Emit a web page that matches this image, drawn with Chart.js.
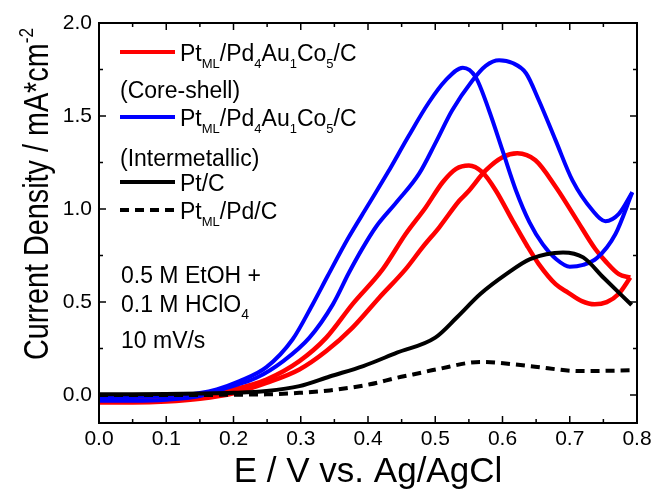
<!DOCTYPE html>
<html>
<head>
<meta charset="utf-8">
<script src="https://cdn.jsdelivr.net/npm/chart.js@4.4.1/dist/chart.umd.min.js"></script>
<style>
  html, body { margin: 0; padding: 0; background: #fff; }
</style>
</head>
<body>
<canvas id="cv" width="656" height="491"></canvas>
<script>
// CV data: potential E (V vs. Ag/AgCl), current density I (mA/cm2)

// PtML/Pd4Au1Co5/C core-shell, forward + reverse sweep
const csFwdE = [0, 0.05, 0.10, 0.15, 0.20, 0.249, 0.298, 0.338, 0.377, 0.417, 0.456, 0.481, 0.506, 0.536, 0.548, 0.575, 0.60, 0.622, 0.649, 0.679, 0.709, 0.738, 0.753, 0.773, 0.790];
const csFwdI = [-0.04, -0.04, -0.035, -0.02, 0.01, 0.066, 0.138, 0.237, 0.363, 0.525, 0.677, 0.794, 0.902, 1.046, 1.09, 1.208, 1.279, 1.30, 1.262, 1.12, 0.95, 0.785, 0.72, 0.65, 0.632];
const csRevE = [0.790, 0.773, 0.755, 0.737, 0.718, 0.698, 0.679, 0.654, 0.637, 0.615, 0.59, 0.57, 0.55, 0.531, 0.511, 0.486, 0.456, 0.422, 0.377, 0.338, 0.298, 0.249, 0.20, 0.15, 0.10, 0.05, 0];
const csRevI = [0.632, 0.545, 0.50, 0.488, 0.505, 0.55, 0.596, 0.704, 0.80, 0.938, 1.10, 1.198, 1.234, 1.216, 1.144, 1.01, 0.866, 0.677, 0.489, 0.309, 0.183, 0.084, 0.031, 0.0, -0.015, -0.025, -0.03];

// PtML/Pd4Au1Co5/C intermetallic
const imFwdE = [0, 0.05, 0.10, 0.15, 0.19, 0.234, 0.274, 0.313, 0.348, 0.372, 0.392, 0.412, 0.442, 0.476, 0.501, 0.525, 0.555, 0.575, 0.595, 0.615, 0.635, 0.654, 0.679, 0.704, 0.734, 0.753, 0.773, 0.793];
const imFwdI = [-0.03, -0.03, -0.025, -0.005, 0.039, 0.093, 0.183, 0.309, 0.489, 0.66, 0.79, 0.905, 1.035, 1.19, 1.36, 1.53, 1.69, 1.77, 1.80, 1.785, 1.73, 1.585, 1.369, 1.154, 0.992, 0.935, 0.974, 1.09];
const imRevE = [0.793, 0.768, 0.74, 0.72, 0.70, 0.68, 0.66, 0.64, 0.62, 0.60, 0.58, 0.56, 0.541, 0.515, 0.49, 0.46, 0.43, 0.40, 0.37, 0.34, 0.318, 0.288, 0.249, 0.209, 0.175, 0.15, 0.10, 0.05, 0];
const imRevI = [1.09, 0.866, 0.735, 0.70, 0.69, 0.73, 0.81, 0.93, 1.10, 1.315, 1.53, 1.71, 1.76, 1.69, 1.57, 1.39, 1.20, 1.02, 0.84, 0.64, 0.49, 0.30, 0.15, 0.075, 0.031, 0.012, -0.005, -0.01, -0.012];

// Pt/C
const ptcE = [0, 0.05, 0.10, 0.15, 0.20, 0.249, 0.298, 0.343, 0.393, 0.443, 0.50, 0.532, 0.567, 0.606, 0.641, 0.69, 0.72, 0.75, 0.792];
const ptcI = [0.005, 0.005, 0.006, 0.008, 0.012, 0.022, 0.048, 0.10, 0.156, 0.228, 0.309, 0.417, 0.543, 0.651, 0.731, 0.767, 0.74, 0.632, 0.484];

// PtML/Pd/C
const ptPdE = [0, 0.10, 0.20, 0.249, 0.298, 0.343, 0.403, 0.443, 0.467, 0.502, 0.567, 0.641, 0.715, 0.79];
const ptPdI = [0.0, 0.0, 0.002, 0.004, 0.012, 0.025, 0.058, 0.093, 0.111, 0.138, 0.178, 0.156, 0.129, 0.133];

const xTicks = [0, 0.1, 0.2, 0.3, 0.4, 0.5, 0.6, 0.7, 0.8];
const yTicks = [0, 0.5, 1.0, 1.5, 2.0];

// legend text, "_{..}" = subscript
const seriesNames = ['Pt_{ML}/Pd_{4}Au_{1}Co_{5}/C', 'Pt_{ML}/Pd_{4}Au_{1}Co_{5}/C', 'Pt/C', 'Pt_{ML}/Pd/C'];
const seriesNotes = ['(Core-shell)', '(Intermetallic)', '', ''];
const conditions = ['0.5 M EtOH +', '0.1 M HClO_{4}', '10 mV/s'];

const FONT = '"Liberation Sans", Arial, sans-serif';
const RED = 'rgb(255,0,0)', BLUE = 'rgb(0,0,255)', BLACK = '#000';

const pts = (E, I) => E.map((e, i) => ({ x: e, y: I[i] }));

function drawRich(ctx, str, x, y, size, subSize, drop) {
  const parts = str.split(/(_\{[^}]*\})/).filter(Boolean);
  for (const p of parts) {
    const sub = p.startsWith('_{');
    const t = sub ? p.slice(2, -1) : p;
    ctx.font = (sub ? subSize : size) + 'px ' + FONT;
    ctx.fillText(t, x, sub ? y + drop : y);
    x += ctx.measureText(t).width;
  }
  return x;
}

const decor = {
  id: 'decor',
  afterDraw(chart) {
    const ctx = chart.ctx;
    const a = chart.chartArea;
    const xs = chart.scales.x, ys = chart.scales.y;
    ctx.save();
    ctx.fillStyle = '#000';
    ctx.strokeStyle = '#000';

    // frame
    ctx.lineWidth = 2;
    ctx.strokeRect(a.left, a.top, a.right - a.left, a.bottom - a.top);

    // inward ticks on all four sides, minor ones half way
    ctx.lineWidth = 1.5;
    ctx.beginPath();
    xTicks.forEach((v, i) => {
      const marks = [[v, 7]];
      if (i < xTicks.length - 1) marks.push([(v + xTicks[i + 1]) / 2, 4]);
      marks.forEach(([m, len]) => {
        const px = xs.getPixelForValue(m);
        ctx.moveTo(px, a.bottom); ctx.lineTo(px, a.bottom - len);
        ctx.moveTo(px, a.top); ctx.lineTo(px, a.top + len);
      });
    });
    yTicks.forEach((v, i) => {
      const marks = [[v, 7]];
      if (i < yTicks.length - 1) marks.push([(v + yTicks[i + 1]) / 2, 4]);
      marks.forEach(([m, len]) => {
        const py = ys.getPixelForValue(m);
        ctx.moveTo(a.left, py); ctx.lineTo(a.left + len, py);
        ctx.moveTo(a.right, py); ctx.lineTo(a.right - len, py);
      });
    });
    ctx.stroke();

    // axis titles
    ctx.textBaseline = 'alphabetic';
    ctx.textAlign = 'center';
    ctx.font = '35px ' + FONT;
    ctx.fillText('E / V vs. Ag/AgCl', (a.left + a.right) / 2, 482);

    ctx.save();
    ctx.translate(48, 360);
    ctx.rotate(-Math.PI / 2);
    ctx.textAlign = 'left';
    ctx.font = '35px ' + FONT;
    const main = 'Current Density / mA*cm';
    const mw = ctx.measureText(main).width;
    ctx.font = '21px ' + FONT;
    const sw = ctx.measureText('-2').width;
    ctx.scale(332 / (mw + sw), 1);
    ctx.font = '35px ' + FONT;
    ctx.fillText(main, 0, 0);
    ctx.font = '21px ' + FONT;
    ctx.fillText('-2', mw, -15);
    ctx.restore();

    // legend
    ctx.textAlign = 'left';
    const rows = [52, 117, 182, 210];
    const noteY = [98, 166];
    chart.data.datasets.filter(d => d.legendIndex !== undefined).forEach(d => {
      const k = d.legendIndex;
      const y = rows[k];
      ctx.save();
      ctx.strokeStyle = d.borderColor;
      ctx.lineWidth = 4;
      ctx.setLineDash(d.borderDash || []);
      ctx.beginPath();
      ctx.moveTo(120, y); ctx.lineTo(175, y);
      ctx.stroke();
      ctx.restore();
      drawRich(ctx, seriesNames[k], 180, y + 9, 23, 13, 7);
      if (seriesNotes[k]) drawRich(ctx, seriesNotes[k], 120, noteY[k], 23, 13, 7);
    });

    // conditions
    const condY = [283, 312, 348];
    conditions.forEach((t, i) => drawRich(ctx, t, 121, condY[i], 23, 14, 7));

    ctx.restore();
  }
};

const line = (data, color, extra) => Object.assign({
  data, borderColor: color, backgroundColor: color,
  borderWidth: 4, pointRadius: 0, showLine: true,
  cubicInterpolationMode: 'monotone', fill: false
}, extra);

new Chart(document.getElementById('cv'), {
  type: 'scatter',
  data: {
    datasets: [
      line(pts(ptcE, ptcI), BLACK, { legendIndex: 2 }),
      line(pts(ptPdE, ptPdI), BLACK, { legendIndex: 3, borderDash: [9, 6] }),
      line(pts(imFwdE, imFwdI), BLUE, { legendIndex: 1 }),
      line(pts(imRevE, imRevI), BLUE),
      line(pts(csFwdE, csFwdI), RED, { legendIndex: 0, borderWidth: 4.5 }),
      line(pts(csRevE, csRevI), RED, { borderWidth: 4.5 })
    ]
  },
  options: {
    responsive: false,
    animation: false,
    devicePixelRatio: 1,
    layout: { padding: { left: 0, right: 19, top: 23, bottom: 0 } },
    plugins: { legend: { display: false }, tooltip: { enabled: false } },
    scales: {
      x: {
        type: 'linear', min: 0, max: 0.8,
        afterBuildTicks: s => { s.ticks = xTicks.map(v => ({ value: v })); },
        afterFit: s => { s.height = 68; },
        grid: { display: false, drawTicks: false },
        border: { display: false },
        ticks: { padding: 4, color: '#000', font: { family: FONT, size: 21 }, callback: v => v.toFixed(1) }
      },
      y: {
        type: 'linear', min: -0.15, max: 2.0,
        afterBuildTicks: s => { s.ticks = yTicks.map(v => ({ value: v })); },
        afterFit: s => { s.width = 99; },
        grid: { display: false, drawTicks: false },
        border: { display: false },
        ticks: { padding: 7, color: '#000', font: { family: FONT, size: 21 }, callback: v => v.toFixed(1) }
      }
    }
  },
  plugins: [decor]
});
</script>
</body>
</html>
